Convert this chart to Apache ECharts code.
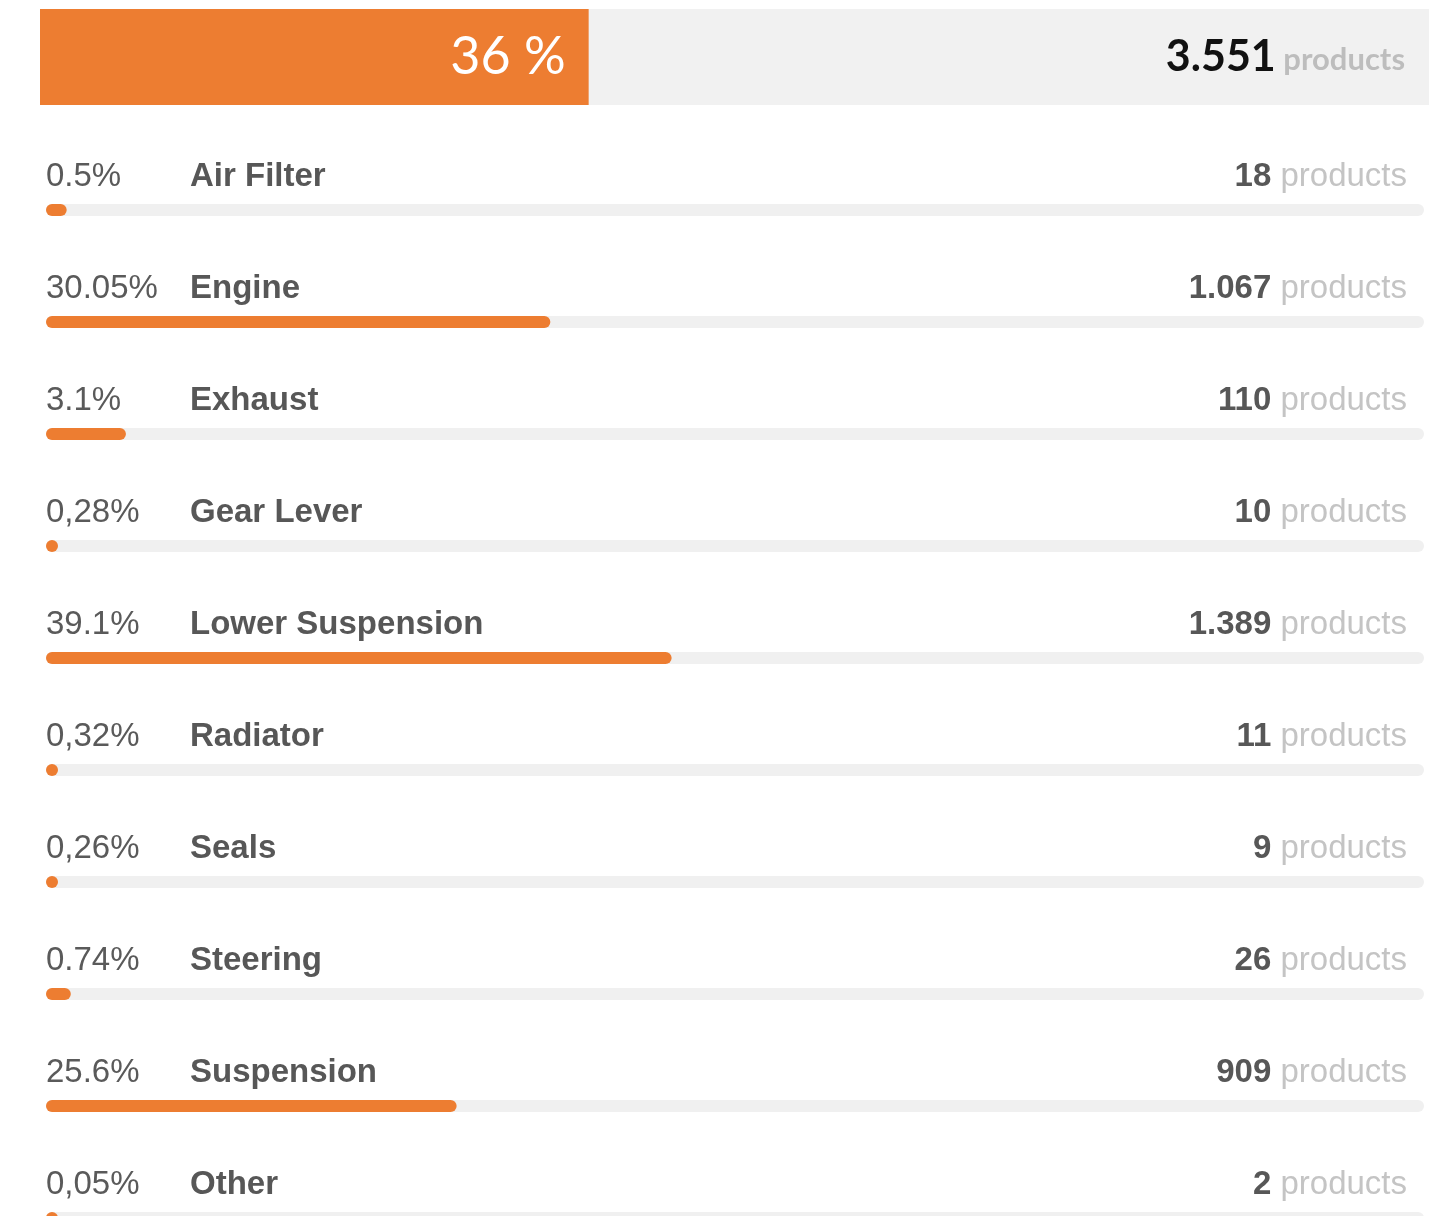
<!DOCTYPE html>
<html>
<head>
<meta charset="utf-8">
<script src="https://cdn.jsdelivr.net/npm/echarts@6/dist/echarts.min.js"></script>
<style>
  html, body { margin: 0; padding: 0; background: #fff; }
  #chart { width: 1437px; height: 1216px; }
</style>
</head>
<body>
<div id="chart"></div>
<script>
// top summary bar
const totalFill = 39.5;          // share of the top bar that is orange
const totalLabel = '36 %';
const totalProducts = '3.551';

// rows
const categories = ['Air Filter', 'Engine', 'Exhaust', 'Gear Lever', 'Lower Suspension',
  'Radiator', 'Seals', 'Steering', 'Suspension', 'Other'];
const shareLabels = ['0.5%', '30.05%', '3.1%', '0,28%', '39.1%', '0,32%', '0,26%', '0.74%', '25.6%', '0,05%'];
const fillValues = [1.5, 36.6, 5.8, 0.6, 45.4, 0.8, 0.8, 1.8, 29.8, 0.6];
const productCounts = ['18', '1.067', '110', '10', '1.389', '11', '9', '26', '909', '2'];

const ORANGE = '#ed7d31';
const TRACK = '#f0f0f0';

const chart = echarts.init(document.getElementById('chart'));

const option = {
  animation: false,
  backgroundColor: '#fff',
  grid: [
    { left: 40, top: 9, width: 1389, height: 96, outerBoundsMode: 'none' },
    // rows are 112px apart, the last one runs past the bottom edge
    { left: 46, top: 154, width: 1378, height: 1120, outerBoundsMode: 'none' }
  ],
  xAxis: [
    { gridIndex: 0, type: 'value', min: 0, max: 100, show: false },
    { gridIndex: 1, type: 'value', min: 0, max: 100, show: false }
  ],
  yAxis: [
    { gridIndex: 0, type: 'category', data: ['total'], show: false },
    { gridIndex: 1, type: 'category', data: categories, inverse: true, show: false }
  ],
  series: [
    {
      // top: grey background
      type: 'bar', xAxisIndex: 0, yAxisIndex: 0,
      data: [100], barWidth: 96, barGap: '-100%',
      itemStyle: { color: '#f1f1f1' },
      silent: true,
      label: {
        show: true, position: 'insideRight', distance: 24,
        formatter: '{num|' + totalProducts + '}{unit| products}',
        rich: {
          num: { fontFamily: 'Lato', fontWeight: 'bold', fontSize: 43, color: '#111' },
          unit: { fontFamily: 'Lato', fontWeight: 'bold', fontSize: 31, color: '#bdbdbd', verticalAlign: 'bottom', padding: [0, 0, 3, 0] }
        }
      }
    },
    {
      // top: orange fill
      type: 'bar', xAxisIndex: 0, yAxisIndex: 0,
      data: [totalFill], barWidth: 96,
      itemStyle: { color: ORANGE },
      silent: true,
      label: {
        show: true, position: 'insideRight', distance: 23,
        formatter: totalLabel,
        fontFamily: 'Lato', fontSize: 52, color: '#fff'
      }
    },
    {
      // rows: track
      type: 'bar', xAxisIndex: 1, yAxisIndex: 1,
      data: categories.map(() => 100), barWidth: 12, barGap: '-100%',
      itemStyle: { color: TRACK, borderRadius: 6 },
      silent: true,
      label: {
        show: true, position: [1361, -27], align: 'right', verticalAlign: 'middle',
        formatter: p => '{num|' + productCounts[p.dataIndex] + '}{unit| products}',
        rich: {
          num: { fontFamily: 'Liberation Sans', fontWeight: 'bold', fontSize: 33, color: '#575757' },
          unit: { fontFamily: 'Liberation Sans', fontSize: 33, color: '#c4c4c4' }
        }
      }
    },
    {
      // rows: fill
      type: 'bar', xAxisIndex: 1, yAxisIndex: 1,
      data: fillValues, barWidth: 12, barMinHeight: 12,
      itemStyle: { color: ORANGE, borderRadius: 6 },
      silent: true,
      label: {
        show: true, position: [0, -27], align: 'left', verticalAlign: 'middle',
        formatter: p => '{pct|' + shareLabels[p.dataIndex] + '}{name|' + categories[p.dataIndex] + '}',
        rich: {
          pct: { fontFamily: 'Liberation Sans', fontSize: 33, color: '#5a5a5a', width: 144 },
          name: { fontFamily: 'Liberation Sans', fontWeight: 'bold', fontSize: 33, color: '#575757' }
        }
      }
    }
  ]
};

chart.setOption(option);
</script>
</body>
</html>
